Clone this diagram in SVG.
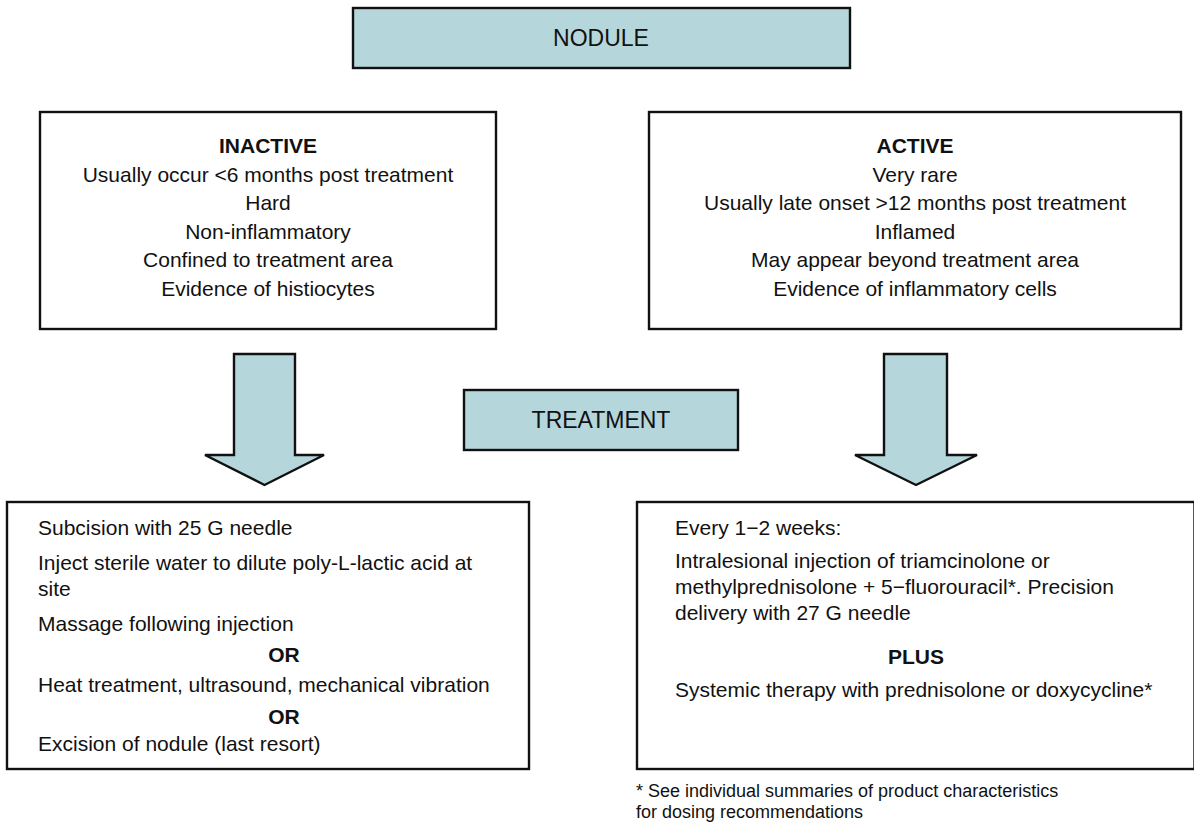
<svg xmlns="http://www.w3.org/2000/svg" width="1194" height="823" viewBox="0 0 1194 823">
  <style>
    text { font-family: "Liberation Sans", Arial, Helvetica, sans-serif; fill: #111; }
    .box { fill: #ffffff; stroke: #111; stroke-width: 2.4; }
    .hdr { fill: #b5d6db; stroke: #111; stroke-width: 2.4; }
    .arrow { fill: #b5d6db; stroke: #111; stroke-width: 2.4; stroke-linejoin: miter; }
    .title { font-size: 23px; text-anchor: middle; }
    .mid { font-size: 21px; text-anchor: middle; }
    .body { font-size: 21px; }
    .bold { font-weight: bold; }
    .note { font-size: 18px; }
  </style>
  <rect width="1194" height="823" fill="#ffffff"/>

  <g id="nodule">
    <rect class="hdr" x="353" y="8" width="497" height="60"/>
    <text class="title" x="601" y="46">NODULE</text>
  </g>

  <g id="inactive">
    <rect class="box" x="40" y="112" width="456" height="217"/>
    <text class="mid bold" x="268" y="153">INACTIVE</text>
    <text class="mid" x="268" y="181.5">Usually occur &lt;6 months post treatment</text>
    <text class="mid" x="268" y="210">Hard</text>
    <text class="mid" x="268" y="238.5">Non-inflammatory</text>
    <text class="mid" x="268" y="267">Confined to treatment area</text>
    <text class="mid" x="268" y="295.5">Evidence of histiocytes</text>
  </g>

  <g id="active">
    <rect class="box" x="649" y="112" width="532" height="217"/>
    <text class="mid bold" x="915" y="153">ACTIVE</text>
    <text class="mid" x="915" y="181.5">Very rare</text>
    <text class="mid" x="915" y="210">Usually late onset &gt;12 months post treatment</text>
    <text class="mid" x="915" y="238.5">Inflamed</text>
    <text class="mid" x="915" y="267">May appear beyond treatment area</text>
    <text class="mid" x="915" y="295.5">Evidence of inflammatory cells</text>
  </g>

  <g id="connectors">
    <polygon class="arrow" points="234,354 295,354 295,455 324,455 264.5,485 205,455 234,455"/>
    <polygon class="arrow" points="884,354 947,354 947,455 977,455 916,485 855,455 884,455"/>
  </g>

  <g id="treatment">
    <rect class="hdr" x="464" y="390" width="274" height="60"/>
    <text class="title" x="601" y="428">TREATMENT</text>
  </g>

  <g id="inactive-treatment">
    <rect class="box" x="7" y="502" width="522" height="267"/>
    <text class="body" x="38" y="535">Subcision with 25 G needle</text>
    <text class="body" x="38" y="570">Inject sterile water to dilute poly-L-lactic acid at</text>
    <text class="body" x="38" y="596">site</text>
    <text class="body" x="38" y="631">Massage following injection</text>
    <text class="mid bold" x="284" y="662">OR</text>
    <text class="body" x="38" y="692">Heat treatment, ultrasound, mechanical vibration</text>
    <text class="mid bold" x="284" y="724">OR</text>
    <text class="body" x="38" y="751">Excision of nodule (last resort)</text>
  </g>

  <g id="active-treatment">
    <rect class="box" x="637" y="502" width="557.5" height="267"/>
    <text class="body" x="675" y="535">Every 1−2 weeks:</text>
    <text class="body" x="675" y="568">Intralesional injection of triamcinolone or</text>
    <text class="body" x="675" y="594">methylprednisolone + 5−fluorouracil*. Precision</text>
    <text class="body" x="675" y="620">delivery with 27 G needle</text>
    <text class="mid bold" x="916" y="664">PLUS</text>
    <text class="body" x="675" y="697">Systemic therapy with prednisolone or doxycycline*</text>
  </g>

  <g id="footnote">
    <text class="note" x="636" y="797">* See individual summaries of product characteristics</text>
    <text class="note" x="636" y="818">for dosing recommendations</text>
  </g>
</svg>
